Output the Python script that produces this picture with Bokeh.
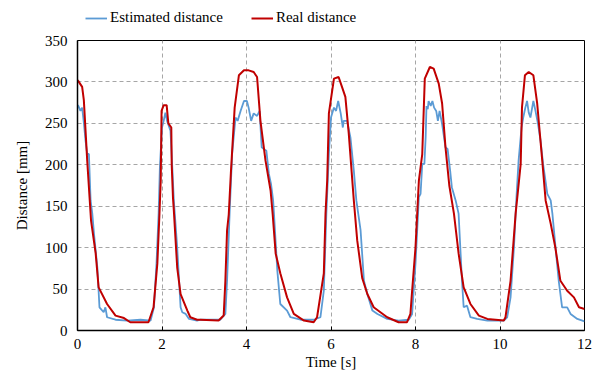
from bokeh.plotting import figure
from bokeh.models import Legend, LegendItem, FixedTicker, Range1d
from bokeh.layouts import column
from bokeh.embed import file_html
from bokeh.resources import INLINE

# Real distance (red)
real_t = [0.0, 0.02, 0.11, 0.15, 0.23, 0.29, 0.32, 0.43, 0.50, 0.70, 0.90, 1.10, 1.25, 1.68, 1.80, 1.89,
          1.94, 1.97, 1.99, 2.04, 2.11, 2.15, 2.22, 2.23, 2.26, 2.28, 2.36, 2.44, 2.60, 2.67, 2.83, 2.91,
          3.34, 3.46, 3.50, 3.54, 3.58, 3.63, 3.72, 3.82, 3.94, 4.05, 4.17, 4.25, 4.33, 4.45, 4.57, 4.62,
          4.69, 4.80, 4.96, 5.12, 5.36, 5.59, 5.67, 5.83, 5.87, 5.91, 5.95, 6.07, 6.18, 6.26, 6.34, 6.42,
          6.54, 6.62, 6.74, 6.86, 7.01, 7.33, 7.60, 7.80, 7.88, 7.92, 8.00, 8.08, 8.16, 8.22, 8.34, 8.43,
          8.55, 8.63, 8.71, 8.80, 8.91, 9.02, 9.14, 9.30, 9.50, 9.70, 10.09, 10.13, 10.25, 10.37, 10.45,
          10.49, 10.52, 10.59, 10.68, 10.79, 10.88, 11.00, 11.08, 11.20, 11.31, 11.43, 11.59, 11.75,
          11.87, 12.0]
real_d = [302, 301, 294, 278, 205, 157, 133, 93, 52, 32, 18, 15, 10, 10, 28, 81,
          141, 181, 265, 272, 272, 250, 245, 200, 160, 145, 76, 44, 24, 16, 13, 13,
          12, 18, 60, 121, 140, 190, 269, 308, 314, 314, 312, 306, 253, 205, 169, 140,
          93, 69, 40, 20, 12, 10, 16, 69, 141, 181, 262, 304, 306, 294, 282, 238,
          157, 109, 63, 44, 28, 16, 10, 10, 20, 48, 100, 181, 213, 304, 318, 316,
          298, 274, 221, 175, 141, 93, 52, 32, 18, 14, 12, 16, 60, 141, 181,
          201, 269, 308, 312, 308, 274, 205, 157, 129, 100, 60, 48, 40,
          28, 26]

# Estimated distance (blue)
est_t = [0.0, 0.02, 0.07, 0.11, 0.15, 0.19, 0.23, 0.27, 0.31, 0.35, 0.39, 0.47, 0.52, 0.62, 0.66, 0.70,
         0.90, 1.18, 1.49, 1.73, 1.81, 1.87, 1.92, 1.95, 2.00, 2.04, 2.08, 2.12, 2.20, 2.24, 2.28, 2.36,
         2.44, 2.48, 2.56, 2.64, 2.83, 2.91, 3.38, 3.50, 3.54, 3.60, 3.66, 3.74, 3.79, 3.86, 3.94, 4.01,
         4.05, 4.11, 4.17, 4.25, 4.31, 4.36, 4.41, 4.47, 4.53, 4.58, 4.63, 4.65, 4.73, 4.80, 4.96, 5.04,
         5.28, 5.59, 5.75, 5.83, 5.89, 5.95, 6.00, 6.07, 6.12, 6.17, 6.23, 6.28, 6.30, 6.38, 6.46, 6.54,
         6.60, 6.70, 6.78, 6.86, 6.98, 7.10, 7.33, 7.60, 7.84, 7.92, 8.00, 8.08, 8.12, 8.16, 8.21, 8.24,
         8.26, 8.29, 8.31, 8.36, 8.40, 8.44, 8.49, 8.53, 8.57, 8.63, 8.71, 8.76, 8.82, 8.86, 8.95, 9.02,
         9.10, 9.14, 9.22, 9.30, 9.46, 9.70, 10.09, 10.17, 10.25, 10.33, 10.39, 10.44, 10.51, 10.55,
         10.60, 10.64, 10.68, 10.72, 10.79, 10.84, 10.90, 10.96, 11.02, 11.12, 11.20, 11.24, 11.35,
         11.39, 11.47, 11.59, 11.67, 11.83, 12.0]
est_d = [272, 271, 265, 269, 251, 229, 213, 213, 157, 141, 117, 76, 28, 22, 28, 16,
         13, 12, 13, 12, 28, 81, 141, 197, 245, 253, 263, 253, 241, 201, 157, 100,
         28, 22, 20, 14, 12, 13, 13, 20, 60, 141, 213, 257, 253, 265, 277, 277,
         269, 253, 262, 259, 265, 221, 219, 217, 189, 177, 157, 141, 72, 32, 24, 16,
         13, 13, 16, 48, 141, 213, 257, 269, 265, 277, 262, 245, 253, 253, 233, 193,
         157, 121, 60, 44, 24, 20, 14, 12, 13, 20, 81, 161, 165, 201, 201, 233,
         271, 267, 277, 271, 277, 269, 265, 253, 265, 249, 221, 219, 193, 173, 157, 141,
         60, 28, 30, 16, 14, 12, 12, 16, 40, 100, 161, 205, 245, 257,
         269, 277, 263, 257, 277, 265, 249, 229, 201, 165, 157, 141, 81,
         60, 28, 28, 20, 14, 11]

x_ticks = [0, 2, 4, 6, 8, 10, 12]
y_ticks = [0, 50, 100, 150, 200, 250, 300, 350]
series_names = ["Estimated distance", "Real distance"]

AXFONT = "Liberation Serif"
LGFONT = "'Liberation Serif'"
BLUE = "#5B9BD5"
RED = "#C00000"

# ---- legend strip above the plot ----
lg = figure(width=593, height=30, output_backend="svg", toolbar_location=None,
            x_range=Range1d(0, 1), y_range=Range1d(0, 1),
            min_border=0, min_border_left=77, min_border_right=9, min_border_top=0, min_border_bottom=0)
lg.axis.visible = False
lg.grid.visible = False
lg.outline_line_color = None
lg.border_fill_color = "white"
lg.background_fill_color = None
d_est = lg.line([-5, -4], [-5, -5], line_color=BLUE, line_width=1.8)
d_real = lg.line([-5, -4], [-5, -5], line_color=RED, line_width=2)
legend = Legend(items=[LegendItem(label=series_names[0], renderers=[d_est]),
                       LegendItem(label=series_names[1], renderers=[d_real])],
                orientation="horizontal", location=(8, 4),
                label_text_font=LGFONT, label_text_font_size="15px", label_text_color="#000000",
                glyph_width=22, glyph_height=14, label_standoff=3, spacing=28,
                padding=0, margin=0, border_line_color=None, background_fill_alpha=0)
lg.add_layout(legend)

# ---- main plot ----
p = figure(width=593, height=348, output_backend="svg", toolbar_location=None,
           x_range=Range1d(0, 12), y_range=Range1d(0, 350),
           min_border_left=77, min_border_right=9, min_border_top=10, min_border_bottom=48)

p.line(est_t, est_d, line_color=BLUE, line_width=1.8)
p.line(real_t, real_d, line_color=RED, line_width=2)

p.xaxis.ticker = FixedTicker(ticks=x_ticks)
p.yaxis.ticker = FixedTicker(ticks=y_ticks)
p.xaxis.axis_label = "Time [s]"
p.yaxis.axis_label = "Distance [mm]"

p.xaxis.axis_label_text_font = AXFONT
p.yaxis.axis_label_text_font = AXFONT
p.xaxis.major_label_text_font = AXFONT
p.yaxis.major_label_text_font = AXFONT
p.xaxis.axis_label_text_font_style = "normal"
p.yaxis.axis_label_text_font_style = "normal"
p.xaxis.axis_label_text_font_size = "15px"
p.yaxis.axis_label_text_font_size = "15px"
p.xaxis.major_label_text_font_size = "15px"
p.yaxis.major_label_text_font_size = "15px"
p.xaxis.major_label_text_color = "black"
p.yaxis.major_label_text_color = "black"
p.xaxis.axis_label_text_color = "black"
p.yaxis.axis_label_text_color = "black"
p.xaxis.axis_line_color = "black"
p.yaxis.axis_line_color = "black"
p.xaxis.axis_line_width = 1.5
p.yaxis.axis_line_width = 1.5
p.xaxis.minor_tick_line_color = None
p.yaxis.minor_tick_line_color = None
p.xaxis.major_tick_out = 0
p.yaxis.major_tick_out = 0
p.xaxis.major_tick_in = 4
p.xaxis.major_tick_line_color = "black"
p.yaxis.major_tick_line_color = None
p.xaxis.major_label_standoff = 8
p.yaxis.major_label_standoff = 10
p.xaxis.axis_label_standoff = 2
p.yaxis.axis_label_standoff = 12

p.xgrid.grid_line_color = "#A6A6A6"
p.ygrid.grid_line_color = "#A6A6A6"
p.xgrid.grid_line_dash = "4 3"
p.ygrid.grid_line_dash = "4 3"

p.outline_line_color = "black"
p.outline_line_width = 1
p.background_fill_color = "white"
p.border_fill_color = "white"

layout = column(lg, p, spacing=0)

html = file_html(layout, INLINE)
open("out.html", "w").write(html)
